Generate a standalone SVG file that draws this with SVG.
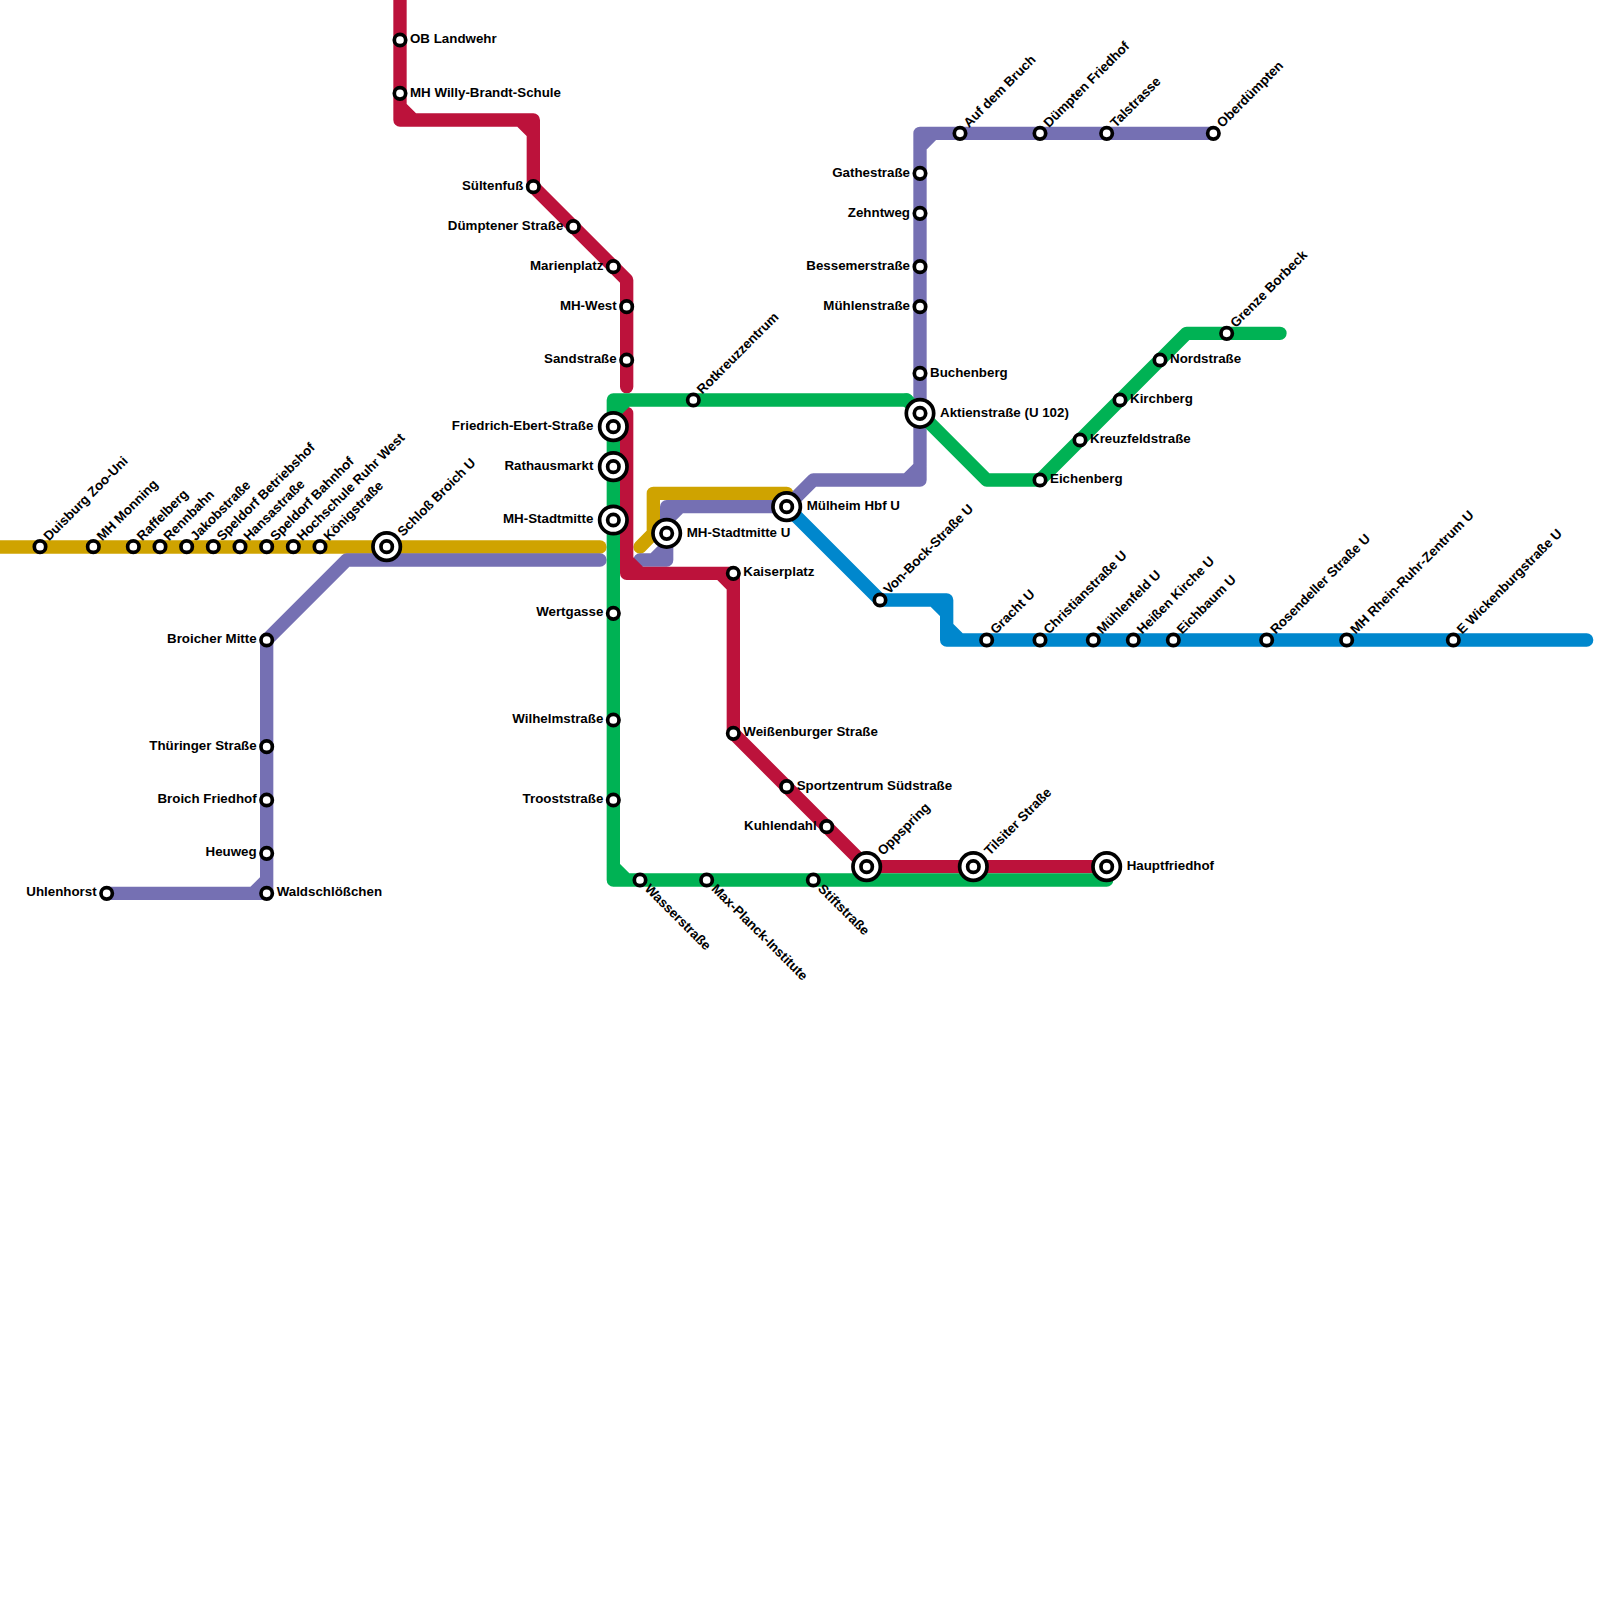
<svg xmlns="http://www.w3.org/2000/svg" width="1600" height="1600" viewBox="0 0 1600 1600">
<style>
.ln{fill:none;stroke-width:13.33;stroke-linejoin:round;stroke-linecap:round}
.y{stroke:#cfa300}.p{stroke:#7570b3}.b{stroke:#0087cd}.r{stroke:#bc123b}.g{stroke:#00b254}
.o{fill:#fff;stroke:#000;stroke-width:3.7}
text{font-family:"Liberation Sans",Arial,sans-serif;font-weight:700;font-size:13.33px;fill:#000}
.e{text-anchor:end}
</style>
<rect width="1600" height="1600" fill="#fff"/>
<g id="connectors">
<path class="ln y" d="M-10 547H600"/>
<path class="ln y" d="M640 547L653.33 533.33V493.33H786.67V506.67"/>
<path class="ln p" d="M600 560H346.67L266.67 640V893.33H106.67M253.33 893.33L266.67 880"/>
<path class="ln p" d="M640 560H666.67V506.67H786.67L813.33 480H920V133.33H1213.33M653.33 560L666.67 546.67M666.67 520L680 506.67M906.67 480L920 466.67M920 146.67L933.33 133.33"/>
<path class="ln b" d="M786.67 506.67L880 600H946.67V640H1586.67M933.33 600L946.67 613.33M946.67 626.67L960 640"/>
<path class="ln r" d="M400 -10V120H533.33V186.67L626.67 280V386.67M400 106.67L413.33 120M520 120L533.33 133.33"/>
<path class="ln r" d="M626.67 413.33V573.33H733.33V733.33L866.67 866.67H1106.67M626.67 560L640 573.33M720 573.33L733.33 586.67"/>
<path class="ln g" d="M906.67 400H613.33V880H1106.67M613.33 413.33L626.67 400M613.33 866.67L626.67 880"/>
<path class="ln g" d="M906.67 400L920 413.33L986.67 480H1040L1186.67 333.33H1280"/>
</g>
<g id="n01"><circle class="o" cx="40" cy="546.67" r="5.7"/><text transform="translate(49 541.5) rotate(-45)">Duisburg Zoo-Uni</text></g>
<g id="n02"><circle class="o" cx="93.33" cy="546.67" r="5.7"/><text transform="translate(102.33 541.5) rotate(-45)">MH Monning</text></g>
<g id="n03"><circle class="o" cx="133.33" cy="546.67" r="5.7"/><text transform="translate(142.33 541.5) rotate(-45)">Raffelberg</text></g>
<g id="n04"><circle class="o" cx="160" cy="546.67" r="5.7"/><text transform="translate(169 541.5) rotate(-45)">Rennbahn</text></g>
<g id="n05"><circle class="o" cx="186.67" cy="546.67" r="5.7"/><text transform="translate(195.67 541.5) rotate(-45)">Jakobstraße</text></g>
<g id="n06"><circle class="o" cx="213.33" cy="546.67" r="5.7"/><text transform="translate(222.33 541.5) rotate(-45)">Speldorf Betriebshof</text></g>
<g id="n07"><circle class="o" cx="240" cy="546.67" r="5.7"/><text transform="translate(249 541.5) rotate(-45)">Hansastraße</text></g>
<g id="n08"><circle class="o" cx="266.67" cy="546.67" r="5.7"/><text transform="translate(275.67 541.5) rotate(-45)">Speldorf Bahnhof</text></g>
<g id="n09"><circle class="o" cx="293.33" cy="546.67" r="5.7"/><text transform="translate(302.33 541.5) rotate(-45)">Hochschule Ruhr West</text></g>
<g id="n10"><circle class="o" cx="320" cy="546.67" r="5.7"/><text transform="translate(329 541.5) rotate(-45)">Königstraße</text></g>
<g id="n11"><circle class="o" cx="386.67" cy="546.67" r="13.7"/><circle class="o" cx="386.67" cy="546.67" r="5.7"/><text transform="translate(403 537) rotate(-45)">Schloß Broich U</text></g>
<g id="n12"><circle class="o" cx="266.67" cy="640" r="5.7"/><text class="e" x="256.67" y="642.8">Broicher Mitte</text></g>
<g id="n13"><circle class="o" cx="266.67" cy="746.67" r="5.7"/><text class="e" x="256.67" y="749.5">Thüringer Straße</text></g>
<g id="n14"><circle class="o" cx="266.67" cy="800" r="5.7"/><text class="e" x="256.67" y="802.8">Broich Friedhof</text></g>
<g id="n15"><circle class="o" cx="266.67" cy="853.33" r="5.7"/><text class="e" x="256.67" y="856.1">Heuweg</text></g>
<g id="n16"><circle class="o" cx="266.67" cy="893.33" r="5.7"/><text x="276.67" y="896.1">Waldschlößchen</text></g>
<g id="n17"><circle class="o" cx="106.67" cy="893.33" r="5.7"/><text class="e" x="96.67" y="896.1">Uhlenhorst</text></g>
<g id="n18"><circle class="o" cx="400" cy="40" r="5.7"/><text x="410" y="42.8">OB Landwehr</text></g>
<g id="n19"><circle class="o" cx="400" cy="93.33" r="5.7"/><text x="410" y="96.7">MH Willy-Brandt-Schule</text></g>
<g id="n20"><circle class="o" cx="533.33" cy="186.67" r="5.7"/><text class="e" x="523.33" y="189.5">Sültenfuß</text></g>
<g id="n21"><circle class="o" cx="573.33" cy="226.67" r="5.7"/><text class="e" x="563.33" y="229.5">Dümptener Straße</text></g>
<g id="n22"><circle class="o" cx="613.33" cy="266.67" r="5.7"/><text class="e" x="603.33" y="269.5">Marienplatz</text></g>
<g id="n23"><circle class="o" cx="626.67" cy="306.67" r="5.7"/><text class="e" x="616.67" y="309.5">MH-West</text></g>
<g id="n24"><circle class="o" cx="626.67" cy="360" r="5.7"/><text class="e" x="616.67" y="362.8">Sandstraße</text></g>
<g id="n25"><circle class="o" cx="613.33" cy="426.67" r="13.7"/><circle class="o" cx="613.33" cy="426.67" r="5.7"/><text class="e" x="593.33" y="429.5">Friedrich-Ebert-Straße</text></g>
<g id="n26"><circle class="o" cx="613.33" cy="466.67" r="13.7"/><circle class="o" cx="613.33" cy="466.67" r="5.7"/><text class="e" x="593.33" y="469.5">Rathausmarkt</text></g>
<g id="n27"><circle class="o" cx="613.33" cy="520" r="13.7"/><circle class="o" cx="613.33" cy="520" r="5.7"/><text class="e" x="593.33" y="522.8">MH-Stadtmitte</text></g>
<g id="n28"><circle class="o" cx="613.33" cy="613.33" r="5.7"/><text class="e" x="603.33" y="616.1">Wertgasse</text></g>
<g id="n29"><circle class="o" cx="613.33" cy="720" r="5.7"/><text class="e" x="603.33" y="722.8">Wilhelmstraße</text></g>
<g id="n30"><circle class="o" cx="613.33" cy="800" r="5.7"/><text class="e" x="603.33" y="802.8">Trooststraße</text></g>
<g id="n31"><circle class="o" cx="640" cy="880" r="5.7"/><text transform="translate(644 889.5) rotate(45)">Wasserstraße</text></g>
<g id="n32"><circle class="o" cx="706.67" cy="880" r="5.7"/><text transform="translate(710.67 889.5) rotate(45)">Max-Planck-Institute</text></g>
<g id="n33"><circle class="o" cx="813.33" cy="880" r="5.7"/><text transform="translate(817.33 889.5) rotate(45)">Stiftstraße</text></g>
<g id="n34"><circle class="o" cx="693.33" cy="400" r="5.7"/><text transform="translate(702.33 394.83) rotate(-45)">Rotkreuzzentrum</text></g>
<g id="n35"><circle class="o" cx="666.67" cy="533.33" r="13.7"/><circle class="o" cx="666.67" cy="533.33" r="5.7"/><text x="686.67" y="536.7">MH-Stadtmitte U</text></g>
<g id="n36"><circle class="o" cx="786.67" cy="506.67" r="13.7"/><circle class="o" cx="786.67" cy="506.67" r="5.7"/><text x="806.67" y="509.5">Mülheim Hbf U</text></g>
<g id="n37"><circle class="o" cx="733.33" cy="573.33" r="5.7"/><text x="743.33" y="576.1">Kaiserplatz</text></g>
<g id="n38"><circle class="o" cx="733.33" cy="733.33" r="5.7"/><text x="743.33" y="736.1">Weißenburger Straße</text></g>
<g id="n39"><circle class="o" cx="786.67" cy="786.67" r="5.7"/><text x="796.67" y="789.5">Sportzentrum Südstraße</text></g>
<g id="n40"><circle class="o" cx="826.67" cy="826.67" r="5.7"/><text class="e" x="816.67" y="829.5">Kuhlendahl</text></g>
<g id="n41"><circle class="o" cx="866.67" cy="866.67" r="13.7"/><circle class="o" cx="866.67" cy="866.67" r="5.7"/><text transform="translate(883 856) rotate(-45)">Oppspring</text></g>
<g id="n42"><circle class="o" cx="973.33" cy="866.67" r="13.7"/><circle class="o" cx="973.33" cy="866.67" r="5.7"/><text transform="translate(989.67 856) rotate(-45)">Tilsiter Straße</text></g>
<g id="n43"><circle class="o" cx="1106.67" cy="866.67" r="13.7"/><circle class="o" cx="1106.67" cy="866.67" r="5.7"/><text x="1126.67" y="869.5">Hauptfriedhof</text></g>
<g id="n44"><circle class="o" cx="880" cy="600" r="5.7"/><text transform="translate(889 594.83) rotate(-45)">Von-Bock-Straße U</text></g>
<g id="n45"><circle class="o" cx="986.67" cy="640" r="5.7"/><text transform="translate(995.67 634.83) rotate(-45)">Gracht U</text></g>
<g id="n46"><circle class="o" cx="1040" cy="640" r="5.7"/><text transform="translate(1049 634.83) rotate(-45)">Christianstraße U</text></g>
<g id="n47"><circle class="o" cx="1093.33" cy="640" r="5.7"/><text transform="translate(1102.33 634.83) rotate(-45)">Mühlenfeld U</text></g>
<g id="n48"><circle class="o" cx="1133.33" cy="640" r="5.7"/><text transform="translate(1142.33 634.83) rotate(-45)">Heißen Kirche U</text></g>
<g id="n49"><circle class="o" cx="1173.33" cy="640" r="5.7"/><text transform="translate(1182.33 634.83) rotate(-45)">Eichbaum U</text></g>
<g id="n50"><circle class="o" cx="1266.67" cy="640" r="5.7"/><text transform="translate(1275.67 634.83) rotate(-45)">Rosendeller Straße U</text></g>
<g id="n51"><circle class="o" cx="1346.67" cy="640" r="5.7"/><text transform="translate(1355.67 634.83) rotate(-45)">MH Rhein-Ruhr-Zentrum U</text></g>
<g id="n52"><circle class="o" cx="1453.33" cy="640" r="5.7"/><text transform="translate(1462.33 634.83) rotate(-45)">E Wickenburgstraße U</text></g>
<g id="n53"><circle class="o" cx="920" cy="173.33" r="5.7"/><text class="e" x="910" y="176.7">Gathestraße</text></g>
<g id="n54"><circle class="o" cx="920" cy="213.33" r="5.7"/><text class="e" x="910" y="216.7">Zehntweg</text></g>
<g id="n55"><circle class="o" cx="920" cy="266.67" r="5.7"/><text class="e" x="910" y="269.5">Bessemerstraße</text></g>
<g id="n56"><circle class="o" cx="920" cy="306.67" r="5.7"/><text class="e" x="910" y="309.5">Mühlenstraße</text></g>
<g id="n57"><circle class="o" cx="920" cy="373.33" r="5.7"/><text x="930" y="376.7">Buchenberg</text></g>
<g id="n58"><circle class="o" cx="920" cy="413.33" r="13.7"/><circle class="o" cx="920" cy="413.33" r="5.7"/><text x="940" y="416.7">Aktienstraße (U 102)</text></g>
<g id="n59"><circle class="o" cx="960" cy="133.33" r="5.7"/><text transform="translate(969 128.16) rotate(-45)">Auf dem Bruch</text></g>
<g id="n60"><circle class="o" cx="1040" cy="133.33" r="5.7"/><text transform="translate(1049 128.16) rotate(-45)">Dümpten Friedhof</text></g>
<g id="n61"><circle class="o" cx="1106.67" cy="133.33" r="5.7"/><text transform="translate(1115.67 128.16) rotate(-45)">Talstrasse</text></g>
<g id="n62"><circle class="o" cx="1213.33" cy="133.33" r="5.7"/><text transform="translate(1222.33 128.16) rotate(-45)">Oberdümpten</text></g>
<g id="n63"><circle class="o" cx="1040" cy="480" r="5.7"/><text x="1050" y="482.8">Eichenberg</text></g>
<g id="n64"><circle class="o" cx="1080" cy="440" r="5.7"/><text x="1090" y="442.8">Kreuzfeldstraße</text></g>
<g id="n65"><circle class="o" cx="1120" cy="400" r="5.7"/><text x="1130" y="402.8">Kirchberg</text></g>
<g id="n66"><circle class="o" cx="1160" cy="360" r="5.7"/><text x="1170" y="362.8">Nordstraße</text></g>
<g id="n67"><circle class="o" cx="1226.67" cy="333.33" r="5.7"/><text transform="translate(1235.67 328.16) rotate(-45)">Grenze Borbeck</text></g>
</svg>
